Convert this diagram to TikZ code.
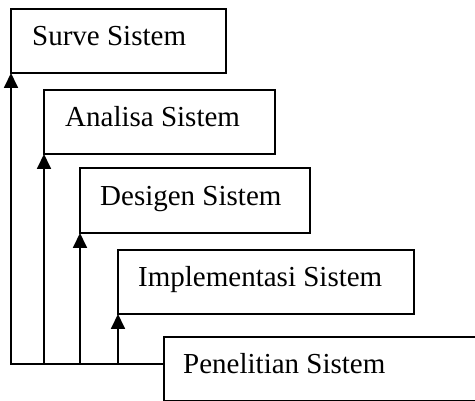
\documentclass[tikz,border=0pt]{standalone}
\usepackage{fontspec}
\setmainfont{Liberation Serif}
\usetikzlibrary{arrows.meta}
\begin{document}
\begin{tikzpicture}[x=1pt,y=-1pt,
  box/.style={draw, line width=1.8pt, minimum height=64pt, anchor=north west, inner sep=0pt, outer sep=0pt},
  lbl/.style={anchor=base west, inner sep=0pt, font=\fontsize{29}{34}\selectfont},
  flow/.style={line width=1.8pt, -{Triangle[length=15pt,width=14pt]}},
  wire/.style={line width=1.8pt}]
\useasboundingbox (0,0) rectangle (475,401);
\clip (0,0) rectangle (475,401);
\node[box, minimum width=215pt] (b1) at (11,9) {};
\node[box, minimum width=231pt] (b2) at (44,90) {};
\node[box, minimum width=230pt, minimum height=65pt] (b3) at (80,168) {};
\node[box, minimum width=296pt] (b4) at (118,250) {};
\node[box, minimum width=330pt] (b5) at (164,337) {};
\node[lbl] (t1) at (32,46) {Surve Sistem};
\node[lbl] (t2) at (65,127) {Analisa Sistem};
\node[lbl] (t3) at (100,206) {Desigen Sistem};
\node[lbl] (t4) at (138,287) {Implementasi Sistem};
\node[lbl] (t5) at (183,374) {Penelitian Sistem};
\coordinate (c1) at (11,364);
\coordinate (c2) at (44,364);
\coordinate (c3) at (80,364);
\coordinate (c4) at (118,364);
\draw[flow] (b5.west |- c1) -- (c1) -- (b1.south west);
\draw[flow] (c2) -- (b2.south west);
\draw[flow] (c3) -- (b3.south west);
\draw[flow] (c4) -- (b4.south west);
\end{tikzpicture}
\end{document}
